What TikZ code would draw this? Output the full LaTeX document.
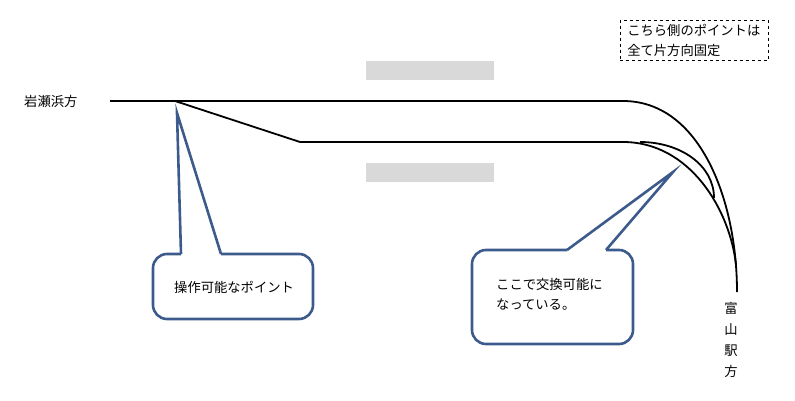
\documentclass[tikz,border=0pt]{standalone}
\usepackage{fontspec}
\setmainfont{Noto Sans CJK JP}
\begin{document}
\begin{tikzpicture}[x=1pt,y=-1pt,
  rail/.style={line width=1.8pt,black},
  callout/.style={draw={rgb,255:red,60;green,90;blue,140},line width=2.6pt,line join=miter},
  lbl/.style={font=\fontsize{13.3}{20}\selectfont,inner sep=0pt,align=left}]
\useasboundingbox (0,0) rectangle (795,401);
\fill[gray!30] (366,61) rectangle (494,80);
\fill[gray!30] (366,163) rectangle (494,182);
% rails
\coordinate (a) at (110,101);
\coordinate (sw) at (175,101);
\coordinate (b) at (300,142);
\coordinate (c1) at (623,101);
\coordinate (c2) at (623,142);
\coordinate (e) at (737,292);
\coordinate (m) at (736,265);
\coordinate (s2) at (640,142);
\coordinate (t) at (714,198);
\draw[rail] (a) -- (c1) .. controls (700,101) and (737,200) .. (e);
\draw[rail] (sw) -- (b) -- (c2) .. controls (690,142) and (730,210) .. (m);
\draw[rail] (s2) .. controls (680,142) and (714,165) .. (t);
% left callout
\draw[callout,rounded corners=14pt] (221,254) -- (313,254) -- (313,319) -- (153,319) -- (153,254) -- (181,254);
\draw[callout] (181,254) -- (177,113) -- (221,254);
\node[lbl,anchor=west] (l1) at (174,287) {操作可能なポイント};
% right callout
\draw[callout,rounded corners=14pt] (606,250) -- (633,250) -- (633,344) -- (472,344) -- (472,250) -- (567,250);
\draw[callout] (567,250) -- (673,172) -- (606,250);
\node[lbl,anchor=north west] (l2) at (496,278) {ここで交換可能に\\なっている。};
% labels
\node[lbl,anchor=west] (iw) at (24,101) {岩瀬浜方};
\node[lbl,align=center,anchor=north,font=\fontsize{13.3}{21}\selectfont] (ty) at (731,302) {富\\山\\駅\\方};
\node[lbl,draw,dashed,line width=0.6pt,inner xsep=7pt,inner ysep=4pt,anchor=north west,text width=134pt] (note) at (620,20) {こちら側のポイントは\\全て片方向固定};
\end{tikzpicture}
\end{document}
